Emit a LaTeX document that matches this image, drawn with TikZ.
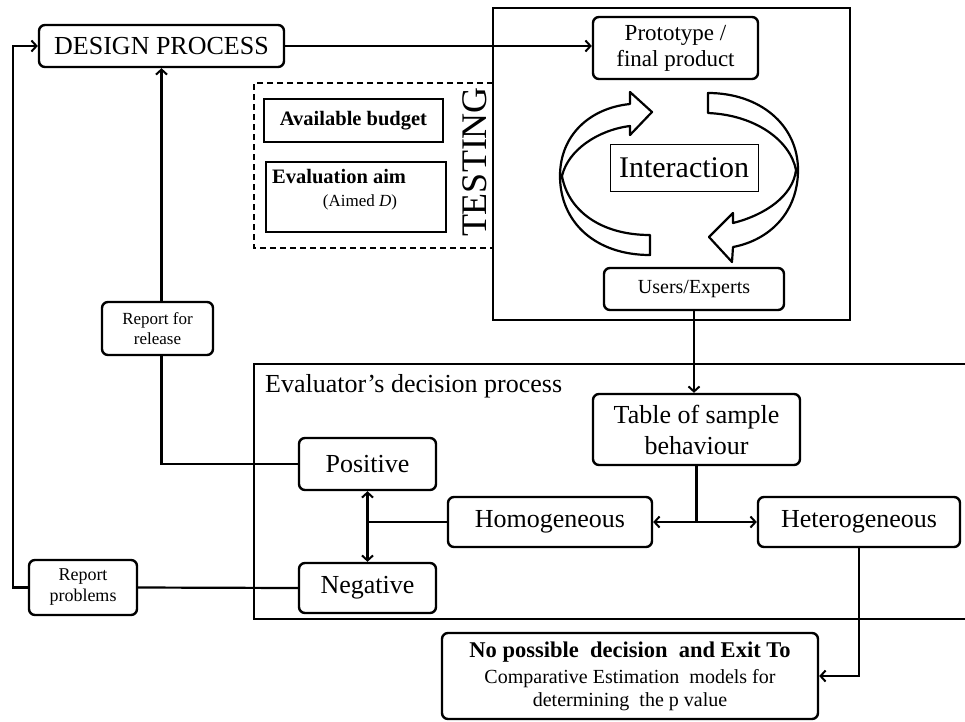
\documentclass[tikz,border=0pt]{standalone}
\usepackage{fontspec}
\setmainfont{Liberation Serif}
\usetikzlibrary{arrows.meta}
\newcommand{\fsz}[2]{\fontsize{#1}{#2}\selectfont}
\begin{document}
\begin{tikzpicture}[x=1pt,y=-1pt,
  box/.style={draw, line width=2.4pt, rounded corners=6pt, align=center, inner sep=0pt, fill=white},
  sqbox/.style={draw, line width=2.4pt, inner sep=0pt, fill=white},
  conn/.style={line width=2.2pt},
  arr/.style={conn, -{Straight Barb[length=5pt,width=11pt,line width=2pt]}},
  darr/.style={conn, {Straight Barb[length=5pt,width=11pt,line width=2pt]}-{Straight Barb[length=5pt,width=11pt,line width=2pt]}},
  band/.style={draw, line width=2.2pt, fill=white, line join=round}
]
\useasboundingbox (0,0) rectangle (965,721);

% frames
\draw[line width=2.4pt] (975,364) -- (254,364) -- (254,619) -- (975,619);
\draw[line width=2.4pt] (493,8) rectangle (850,320);
\draw[line width=2pt, dash pattern=on 6pt off 4pt] (493,83) -- (254,83) -- (254,248) -- (493,248);

\node[rotate=90, font=\fsz{36}{40}, inner sep=0pt] (testing) at (475,162) {TESTING};
\node[anchor=west, font=\fsz{26}{30}, inner sep=0pt] (evaltitle) at (265,386) {Evaluator’s decision process};

% nodes
\node[box, minimum width=245pt, minimum height=42pt, font=\fsz{26}{30}] (design) at (161.5,46) {DESIGN PROCESS};
\node[box, minimum width=165pt, minimum height=62pt, font=\fsz{23}{26}] (proto) at (675.5,48) {Prototype /\\final product};
\node[box, minimum width=180pt, minimum height=42pt, font=\fsz{20}{24}] (users) at (694,289) {Users/Experts};
\node[box, minimum width=207pt, minimum height=71pt, font=\fsz{26}{31}] (table) at (696.5,429.5) {Table of sample\\behaviour};
\node[box, minimum width=204pt, minimum height=50pt, font=\fsz{26}{30}] (homo) at (550,522) {Homogeneous};
\node[box, minimum width=202pt, minimum height=50pt, font=\fsz{26}{30}] (hetero) at (859,522) {Heterogeneous};
\node[box, minimum width=137pt, minimum height=52pt, font=\fsz{26}{30}] (positive) at (367.5,464) {Positive};
\node[box, minimum width=137pt, minimum height=50pt, font=\fsz{26}{30}] (negative) at (367.5,588) {Negative};
\node[box, minimum width=111pt, minimum height=53pt, font=\fsz{17}{20}] (rfr) at (157.5,328.5) {Report for\\release};
\node[box, minimum width=108pt, minimum height=55pt, font=\fsz{18}{21}] (rprob) at (83,587.5) {Report\\problems};
\node[box, minimum width=376pt, minimum height=86pt, font=\fsz{20}{23}] (final) at (630,676)
  {{\bfseries\fsz{22.5}{23}No possible\ \ decision\ \ and Exit To}\\[3pt]Comparative Estimation\ \ models for\\determining\ \ the p value};

\node[sqbox, minimum width=179pt, minimum height=43pt, font=\fsz{20.5}{24}\bfseries] (budget) at (353.5,120.5) {Available budget};
\node[sqbox, minimum width=180pt, minimum height=70pt] (aim) at (356,197) {};
\node[anchor=west, inner sep=0pt, font=\fsz{20.5}{24}\bfseries] (aimtxt) at (272,177) {Evaluation aim};
\node[inner sep=0pt, font=\fsz{17}{20}] (aimd) at (360,202) {(Aimed \textit{D})};

\node[draw, line width=1pt, minimum width=148pt, minimum height=47pt, inner sep=0pt, font=\fsz{30}{32}] (inter) at (684,167.5) {Interaction};

% circular arrows
\draw[band] (650,255) .. controls (595,255) and (560,222) .. (560,176)
  .. controls (560,135) and (590,108) .. (630,104) -- (630,92) -- (652,112) -- (630,135) -- (630,126)
  .. controls (598,130) and (568,150) .. (562,176)
  .. controls (568,210) and (600,235) .. (650,235) -- cycle;
\draw[band] (708,93) .. controls (760,93) and (798,125) .. (798,170)
  .. controls (798,212) and (770,240) .. (733,247) -- (732,262) -- (709,237) -- (733,213) -- (733,223)
  .. controls (765,215) and (793,196) .. (796,170)
  .. controls (790,140) and (755,115) .. (708,113) -- cycle;

% connectors
\coordinate (lc) at (13,46);
\coordinate (j) at (table.south |- homo.east);
\coordinate (k) at (positive.south |- homo.west);
\draw[arr] (design.east) -- (design.east -| proto.west);
\draw[arr] (rprob.west) -| (lc) -- (design.west);
\draw[conn] (rprob.east) -- (negative.west);
\draw[conn] (positive.west) -| ([xshift=4pt]rfr.south);
\draw[arr] ([xshift=4pt]rfr.north) -- ([xshift=4pt]rfr.north |- design.south);
\draw[arr] (users.south) -- (users.south |- table.north);
\draw[conn] (table.south) -- (j);
\draw[arr] (j) -- (homo.east);
\draw[arr] (j) -- (hetero.west);
\draw[conn] (homo.west) -- (k);
\draw[darr] (positive.south) -- (negative.north);
\draw[arr] (hetero.south) |- (final.east);
\end{tikzpicture}
\end{document}
